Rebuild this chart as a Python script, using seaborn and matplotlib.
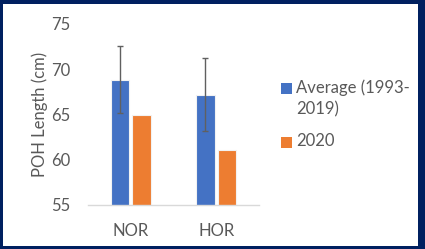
import matplotlib
matplotlib.use("Agg")
import matplotlib.pyplot as plt
import matplotlib.patches as mpatches
import pandas as pd
import seaborn as sns

# data
regions = ["NOR", "HOR"]
series = ["Average (1993-\n2019)", "2020"]
avg_vals = [68.85, 67.2]
vals_2020 = [64.9, 61.1]
avg_err = [3.7, 4.05]

blue = "#4472C4"
orange = "#ED7D31"
grey_txt = "#595959"
navy = "#002060"

df = pd.DataFrame({
    "region": regions * 2,
    "series": [series[0]] * 2 + [series[1]] * 2,
    "length": avg_vals + vals_2020,
})

sns.set_style("white")
plt.rcParams["font.family"] = ["Lato", "DejaVu Sans"]

fig = plt.figure(figsize=(4.25, 2.49), dpi=100)
fig.patch.set_facecolor(navy)
bg = mpatches.Rectangle((3 / 425, 3 / 249), 415 / 425, 242 / 249,
                        transform=fig.transFigure, facecolor="white",
                        edgecolor="none", zorder=-5)
fig.add_artist(bg)

ax = fig.add_axes([88 / 425, 44 / 249, 171 / 425, 181 / 249])
ax.set_facecolor("none")
sns.barplot(data=df, x="region", y="length", hue="series", hue_order=series,
            palette=[blue, orange], saturation=1, width=0.503, gap=0.117, ax=ax,
            edgecolor="#f2f2f2", linewidth=0.8, legend=False)

# error bars on the average bars
for p, e in zip(ax.patches[:2], avg_err):
    cx = p.get_x() + p.get_width() / 2
    ax.errorbar(cx, p.get_height(), yerr=e, fmt="none", ecolor="#606060",
                elinewidth=1, capsize=2.5, capthick=1, zorder=5)

ax.set_xlim(-0.5, 1.5)
ax.set_ylim(55, 75)
ax.set_yticks([55, 60, 65, 70, 75])
ax.set_xlabel("")
ax.set_ylabel("POH Length (cm)", fontsize=12, color=grey_txt, labelpad=2)
ax.tick_params(axis="both", length=0, labelsize=12, colors=grey_txt)
ax.tick_params(axis="x", pad=13)
ax.tick_params(axis="y", pad=13)
for s in ["top", "right", "left"]:
    ax.spines[s].set_visible(False)
ax.spines["bottom"].set_color("#d9d9d9")
ax.spines["bottom"].set_linewidth(1)

# legend drawn by hand so the wrapped label gets the wider line spacing
sq = 11
for (top, col, lab) in [(83, blue, series[0]), (137, orange, series[1])]:
    fig.add_artist(mpatches.Rectangle((281 / 425, 1 - (top + sq) / 249), sq / 425, sq / 249,
                                      transform=fig.transFigure, facecolor=col,
                                      edgecolor="none"))
    fig.text(296 / 425, 1 - (top - 4) / 249, lab, ha="left", va="top", fontsize=12,
             color=grey_txt, linespacing=1.45)

fig.savefig("out.png", dpi=100, facecolor=navy)
